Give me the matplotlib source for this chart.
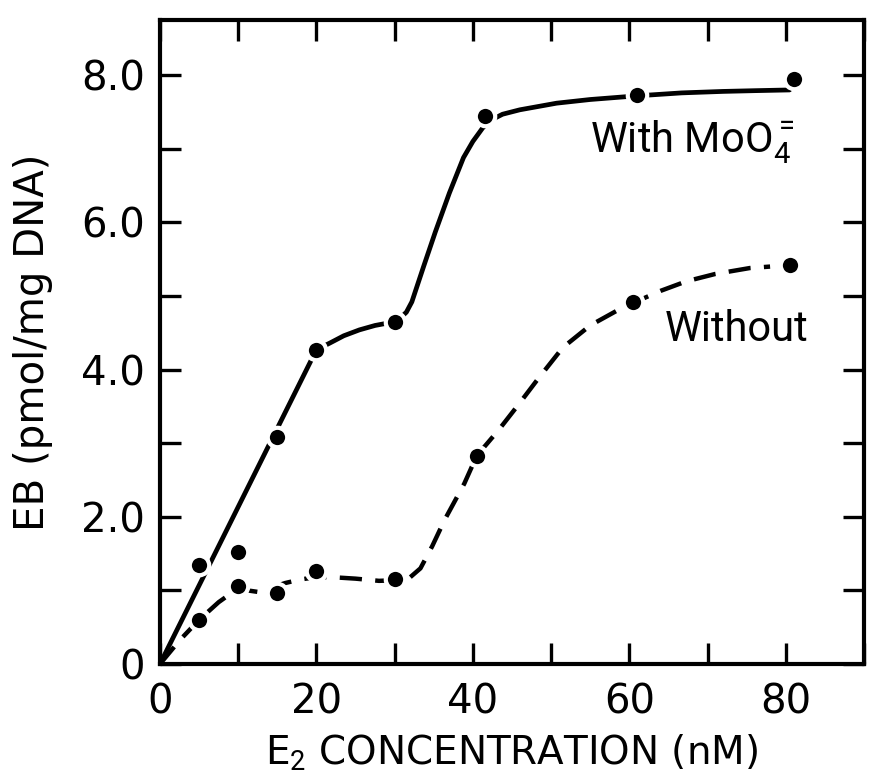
import matplotlib.pyplot as plt
from matplotlib.ticker import MultipleLocator, FixedLocator, FixedFormatter

# Measured EB binding (pmol/mg DNA) vs E2 concentration (nM)
conc_with = [5, 10, 15, 20, 30, 41.5, 61, 81]
eb_with = [1.35, 1.52, 3.08, 4.27, 4.65, 7.45, 7.73, 7.95]
conc_without = [5, 10, 15, 20, 30, 40.5, 60.5, 80.5]
eb_without = [0.60, 1.06, 0.97, 1.27, 1.15, 2.83, 4.92, 5.42]

# Hand-drawn trend curves (read as vertices)
curve_with_x = [0, 20, 21.7, 23.5, 25.5, 27.5, 29.5, 30.5, 31.5, 32.2, 33.7, 35.2, 37, 38.8,
                40, 41.3, 42.5, 43.8, 46, 50.7, 55, 61, 66.7, 72, 76, 80.5]
curve_with_y = [0, 4.27, 4.36, 4.46, 4.54, 4.60, 4.64, 4.68, 4.78, 4.92, 5.40, 5.87, 6.40, 6.88,
                7.10, 7.29, 7.40, 7.47, 7.53, 7.62, 7.67, 7.72, 7.76, 7.78, 7.79, 7.80]
curve_without_x = [0, 2.5, 5, 7.5, 10, 11.2, 12.5, 14, 16, 18, 20, 22, 25, 28, 30.5, 32, 33.3,
                   34.8, 36.4, 38.9, 40.5, 43.3, 45.8, 48.3, 51.5, 55, 58.4, 61, 64, 67.3, 71,
                   75.4, 78]
curve_without_y = [0, 0.32, 0.60, 0.84, 1.03, 1.00, 0.98, 1.03, 1.10, 1.15, 1.18, 1.18, 1.16,
                   1.13, 1.14, 1.18, 1.30, 1.60, 1.96, 2.45, 2.83, 3.18, 3.52, 3.87, 4.30, 4.60,
                   4.80, 4.93, 5.07, 5.20, 5.30, 5.38, 5.40]

y_major = [0, 2, 4, 6, 8]
y_labels = ['0', '2.0', '4.0', '6.0', '8.0']

# narrower face for the curve labels
plt.rcParams['mathtext.fontset'] = 'custom'
plt.rcParams['mathtext.rm'] = 'Roboto'
plt.rcParams['mathtext.it'] = 'Roboto'

fig = plt.figure(figsize=(8.78, 7.79), dpi=100)
ax = fig.add_axes([0.1822, 0.1476, 0.8018, 0.8267])

ax.plot(curve_with_x, curve_with_y, color='black', lw=3.4, solid_capstyle='round')
ax.plot(curve_without_x, curve_without_y, color='black', lw=3.2,
        linestyle=(0, (5, 3)), dash_capstyle='butt')
ax.plot(conc_with, eb_with, 'o', color='black', ms=14, mec='white', mew=3, zorder=3)
ax.plot(conc_without, eb_without, 'o', color='black', ms=14, mec='white', mew=3, zorder=3)

ax.set_xlim(0, 90)
ax.set_ylim(0, 8.75)

ax.xaxis.set_major_locator(FixedLocator([0, 20, 40, 60, 80]))
ax.xaxis.set_minor_locator(MultipleLocator(10))
ax.yaxis.set_major_locator(FixedLocator(y_major))
ax.yaxis.set_major_formatter(FixedFormatter(y_labels))
ax.yaxis.set_minor_locator(MultipleLocator(1))

ax.tick_params(which='both', direction='in', top=True, right=True, width=2.4, length=15)
ax.tick_params(axis='x', which='major', labelsize=29, pad=13)
ax.tick_params(axis='y', which='major', labelsize=29, pad=11)
for s in ax.spines.values():
    s.set_linewidth(3)

ax.set_xlabel(r'E$_2$ CONCENTRATION (nM)', fontsize=28, labelpad=8)
ax.set_ylabel('EB (pmol/mg DNA)', fontsize=29, labelpad=20)

ax.text(55.0, 6.95, r'With MoO$_4^{=}$', fontsize=30, family='Roboto', va='baseline')
ax.text(64.5, 4.55, 'Without', fontsize=30, family='Roboto', va='center')

plt.savefig('out.png', dpi=100)
